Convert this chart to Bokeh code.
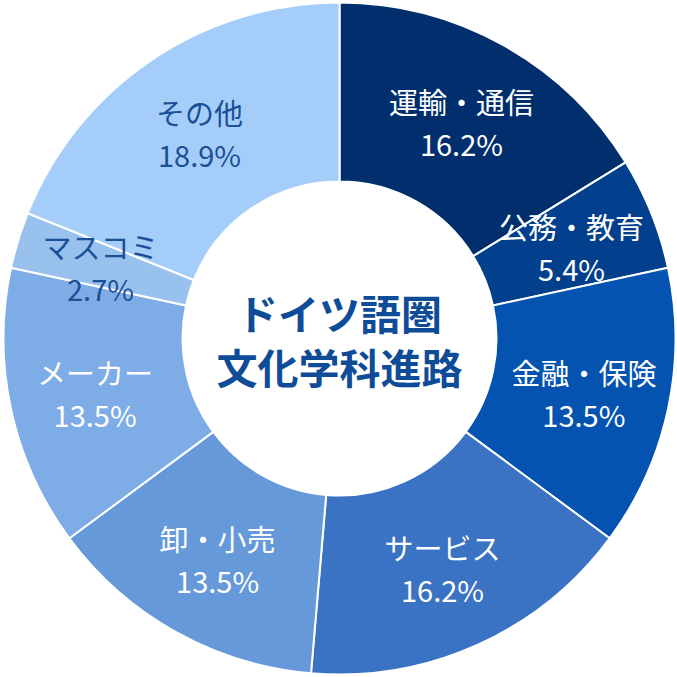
import math
from bokeh.plotting import figure
from bokeh.models import ColumnDataSource, Range1d
from bokeh.core.properties import value
from bokeh.embed import file_html
from bokeh.resources import INLINE

categories = ["運輸・通信", "公務・教育", "金融・保険", "サービス", "卸・小売", "メーカー", "マスコミ", "その他"]
shares = [16.2, 5.4, 13.5, 16.2, 13.5, 13.5, 2.7, 18.9]
pct_labels = ["16.2%", "5.4%", "13.5%", "16.2%", "13.5%", "13.5%", "2.7%", "18.9%"]
colors = ["#012F6D", "#023F8C", "#0453B1", "#3A73C3", "#6699D9", "#7EACE6", "#98C1EE", "#A4CEF9"]
label_colors = ["white", "white", "white", "white", "white", "white", "#1B4F96", "#1B4F96"]
title_lines = ["ドイツ語圏", "文化学科進路"]

total = sum(shares)
starts, ends, lx, ly = [], [], [], []
cum = 0.0
for s in shares:
    a0 = cum / total * 2 * math.pi
    cum += s
    a1 = cum / total * 2 * math.pi
    starts.append(math.pi / 2 - a0)
    ends.append(math.pi / 2 - a1)
    mid = (a0 + a1) / 2
    lx.append(250 * math.sin(mid))
    ly.append(250 * math.cos(mid) - 2)

src = ColumnDataSource(dict(start=starts, end=ends, color=colors, name=categories,
                            pct=pct_labels, x=lx, y_name=[v + 21 for v in ly],
                            y_pct=[v - 21 for v in ly], lc=label_colors))

p = figure(width=677, height=677, output_backend="svg", toolbar_location=None,
           x_range=Range1d(-339, 338), y_range=Range1d(-339, 338),
           min_border=0, outline_line_color=None)
p.axis.visible = False
p.grid.visible = False
p.background_fill_color = "white"
p.border_fill_color = "white"

p.annular_wedge(x=0, y=0, inner_radius=157, outer_radius=336,
                start_angle="start", end_angle="end", direction="clock",
                fill_color="color", line_color="white", line_width=2, source=src)

font = value("Noto Sans CJK JP")
p.text(x="x", y="y_name", text="name", source=src, text_color="lc",
       text_font=font, text_font_size="29px", text_align="center", text_baseline="middle")
p.text(x="x", y="y_pct", text="pct", source=src, text_color="lc",
       text_font=font, text_font_size="29px", text_align="center", text_baseline="middle")

p.text(x=[0, 0], y=[27, -27], text=title_lines, text_color="#0F4C97",
       text_font=font, text_font_size="41px", text_font_style="bold",
       text_align="center", text_baseline="middle")

open("out.html", "w").write(file_html(p, INLINE))
